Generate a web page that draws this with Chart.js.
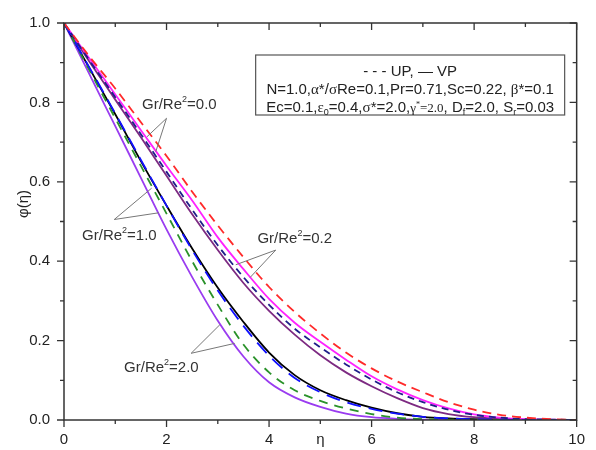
<!DOCTYPE html>
<html>
<head>
<meta charset="utf-8">
<script src="https://cdn.jsdelivr.net/npm/chart.js@4.4.1/dist/chart.umd.min.js"></script>
<style>
html, body { margin: 0; padding: 0; background: #fff; }
#wrap { width: 596px; height: 450px; }
</style>
</head>
<body>
<div id="wrap"><canvas id="chart"></canvas></div>
<script>
// eta grid shared by all curves
var eta = [0, 0.5, 1, 1.5, 2, 2.5, 3, 3.5, 4, 4.5, 5, 5.5, 6, 6.5, 7, 7.5, 8, 8.5, 9, 9.5, 10];

// Gr/Re^2 = 0.0
var up00 = [1, 0.915, 0.835, 0.75, 0.665, 0.575, 0.49, 0.41, 0.335, 0.272, 0.218, 0.17, 0.13, 0.097, 0.07, 0.045, 0.026, 0.013, 0.006, 0.002, 0];
var vp00 = [1, 0.91, 0.82, 0.73, 0.64, 0.553, 0.46, 0.38, 0.305, 0.245, 0.197, 0.152, 0.11, 0.077, 0.05, 0.029, 0.014, 0.006, 0.002, 0.001, 0];
// Gr/Re^2 = 0.2
var up02 = [1, 0.905, 0.813, 0.72, 0.625, 0.53, 0.44, 0.36, 0.29, 0.23, 0.183, 0.14, 0.102, 0.07, 0.045, 0.026, 0.013, 0.006, 0.002, 0.001, 0];
var vp02 = [1, 0.902, 0.807, 0.712, 0.615, 0.518, 0.428, 0.345, 0.275, 0.215, 0.163, 0.12, 0.085, 0.055, 0.03, 0.015, 0.007, 0.003, 0.001, 0, 0];
// Gr/Re^2 = 1.0
var up10 = [1, 0.887, 0.772, 0.655, 0.54, 0.428, 0.326, 0.237, 0.162, 0.106, 0.07, 0.045, 0.028, 0.016, 0.008, 0.004, 0.002, 0.001, 0, 0, 0];
var vp10 = [1, 0.885, 0.77, 0.652, 0.54, 0.432, 0.333, 0.247, 0.17, 0.113, 0.075, 0.05, 0.031, 0.017, 0.008, 0.004, 0.002, 0.001, 0, 0, 0];
// Gr/Re^2 = 2.0
var up20 = [1, 0.88, 0.76, 0.64, 0.52, 0.40, 0.29, 0.19, 0.12, 0.075, 0.048, 0.029, 0.015, 0.006, 0.002, 0.001, 0, 0, 0, 0, 0];
var vp20 = [1, 0.87, 0.74, 0.61, 0.48, 0.36, 0.25, 0.16, 0.095, 0.057, 0.033, 0.016, 0.007, 0.003, 0.001, 0, 0, 0, 0, 0, 0];

var xTicks = [0, 2, 4, 6, 8, 10];
var yTicks = [0, 0.2, 0.4, 0.6, 0.8, 1.0];

// curve labels with leader lines (data units)
var grLabels = ['0.0', '1.0', '0.2', '2.0'];
var grLabelAt = [[2.25, 0.797], [1.08, 0.468], [4.5, 0.46], [1.9, 0.134]];
var grApex = [[2.0, 0.76], [0.98, 0.505], [4.13, 0.428], [2.48, 0.168]];
var grEnds = [
    [[1.615, 0.713], [1.79, 0.676]],
    [[1.71, 0.584], [1.85, 0.522]],
    [[3.35, 0.391], [3.63, 0.359]],
    [[3.04, 0.24], [3.33, 0.193]]
];

var SANS = '"Liberation Sans", Arial, sans-serif';
var SERIF = '"Liberation Serif", "Times New Roman", serif';

function pts(ys) {
    return eta.map(function (x, i) { return { x: x, y: ys[i] }; });
}

function series(ys, color, dash) {
    return {
        data: pts(ys),
        borderColor: color,
        borderWidth: 1.8,
        borderDash: dash || [],
        pointRadius: 0,
        fill: false,
        cubicInterpolationMode: 'monotone'
    };
}

function drawRuns(ctx, runs, cx, y) {
    var total = 0;
    runs.forEach(function (r) {
        ctx.font = r[1];
        r.w = ctx.measureText(r[0]).width;
        total += r.w;
    });
    var x = cx - total / 2;
    runs.forEach(function (r) {
        ctx.font = r[1];
        ctx.fillText(r[0], x, y + (r[2] || 0));
        x += r.w;
    });
}

var framePlugin = {
    id: 'frame',
    afterDraw: function (chart) {
        var ctx = chart.ctx;
        var a = chart.chartArea;
        var xs = chart.scales.x;
        var ys = chart.scales.y;
        ctx.save();

        // frame
        ctx.strokeStyle = '#333';
        ctx.lineWidth = 1.5;
        ctx.strokeRect(a.left, a.top, a.right - a.left, a.bottom - a.top);

        // ticks: bottom/left outward, top/right inward
        ctx.lineWidth = 1.3;
        ctx.beginPath();
        var i, p, len;
        for (i = 0; i <= 10; i++) {
            p = xs.getPixelForValue(i);
            len = i % 2 === 0 ? 7 : 4;
            ctx.moveTo(p, a.bottom); ctx.lineTo(p, a.bottom + len);
            ctx.moveTo(p, a.top); ctx.lineTo(p, a.top + len);
        }
        for (i = 0; i <= 10; i++) {
            p = ys.getPixelForValue(i / 10);
            len = i % 2 === 0 ? 7 : 4;
            ctx.moveTo(a.left - len, p); ctx.lineTo(a.left, p);
            ctx.moveTo(a.right - len, p); ctx.lineTo(a.right, p);
        }
        ctx.stroke();

        // axis titles
        ctx.fillStyle = '#222';
        ctx.font = '15px ' + SANS;
        ctx.textAlign = 'center';
        ctx.textBaseline = 'middle';
        ctx.fillText('\u03b7', (a.left + a.right) / 2, a.bottom + 20);
        ctx.save();
        ctx.translate(24, 204);
        ctx.rotate(-Math.PI / 2);
        ctx.fillText('\u03c6(\u03b7)', 0, 0);
        ctx.restore();

        // leader lines + labels
        ctx.strokeStyle = '#777';
        ctx.lineWidth = 1;
        ctx.beginPath();
        grApex.forEach(function (ap, k) {
            var ax = xs.getPixelForValue(ap[0]), ay = ys.getPixelForValue(ap[1]);
            grEnds[k].forEach(function (e) {
                ctx.moveTo(ax, ay);
                ctx.lineTo(xs.getPixelForValue(e[0]), ys.getPixelForValue(e[1]));
            });
        });
        ctx.stroke();
        ctx.textAlign = 'left';
        ctx.textBaseline = 'alphabetic';
        ctx.fillStyle = '#333';
        grLabels.forEach(function (lab, k) {
            var cx = xs.getPixelForValue(grLabelAt[k][0]);
            var cy = ys.getPixelForValue(grLabelAt[k][1]) + 5.5;
            drawRuns(ctx, [
                ['Gr/Re', '15px ' + SANS],
                ['2', '9px ' + SANS, -7],
                ['=' + lab, '15px ' + SANS]
            ], cx, cy);
        });

        // parameter box
        var bx = a.right - 321, by = a.top + 32, bw = 309, bh = 60;
        ctx.fillStyle = '#fff';
        ctx.fillRect(bx, by, bw, bh);
        ctx.strokeStyle = '#555';
        ctx.lineWidth = 1.2;
        ctx.strokeRect(bx, by, bw, bh);
        ctx.fillStyle = '#222';
        var cx = bx + bw / 2;
        var f = '15px ' + SANS, fs = '15px ' + SERIF, sub = '9px ' + SANS, ssub = '13px ' + SERIF;
        drawRuns(ctx, [['- - - UP, \u2014 VP', f]], cx, by + 21);
        drawRuns(ctx, [
            ['N=1.0,', f], ['\u03b1', fs], ['*/', f], ['\u03c3', fs],
            ['Re=0.1,Pr=0.71,Sc=0.22, ', f], ['\u03b2', fs], ['*=0.1', f]
        ], cx, by + 39);
        drawRuns(ctx, [
            ['Ec=0.1,', f], ['\u03b5', fs], ['0', sub, 3], ['=0.4,', f], ['\u03c3', fs],
            ['*=2.0,', f], ['\u03b3', ssub], ['*', '8px ' + SERIF, -5], ['=2.0', ssub],
            [', D', f], ['f', sub, 3], ['=2.0, S', f], ['r', sub, 3], ['=0.03', f]
        ], cx, by + 57);

        ctx.restore();
    }
};

new Chart(document.getElementById('chart'), {
    type: 'line',
    data: {
        datasets: [
            series(up00, '#ff2a2a', [9, 6]),
            series(up02, '#1f1f8a', [7, 5]),
            series(up10, '#1010ff', [14, 8]),
            series(up20, '#2a922a', [9, 7]),
            series(vp00, '#ff22ff'),
            series(vp02, '#7d2a82'),
            series(vp10, '#000000'),
            series(vp20, '#9a3cf0')
        ]
    },
    options: {
        responsive: true,
        maintainAspectRatio: false,
        animation: false,
        layout: { padding: { top: 16, right: 12, left: 0, bottom: 0 } },
        plugins: {
            legend: { display: false },
            tooltip: { enabled: false }
        },
        scales: {
            x: {
                type: 'linear',
                min: 0,
                max: 10,
                grid: { display: false, drawTicks: false },
                border: { display: false },
                afterBuildTicks: function (s) { s.ticks = xTicks.map(function (v) { return { value: v }; }); },
                afterFit: function (s) { s.height = 30; },
                ticks: {
                    padding: 11,
                    maxRotation: 0,
                    color: '#222',
                    font: { family: SANS, size: 15 }
                }
            },
            y: {
                type: 'linear',
                min: 0,
                max: 1,
                grid: { display: false, drawTicks: false },
                border: { display: false },
                afterBuildTicks: function (s) { s.ticks = yTicks.map(function (v) { return { value: v }; }); },
                afterFit: function (s) { s.width = 64; },
                ticks: {
                    padding: 14,
                    color: '#222',
                    font: { family: SANS, size: 15 },
                    callback: function (v) { return Number(v).toFixed(1); }
                }
            }
        }
    },
    plugins: [framePlugin]
});
</script>
</body>
</html>
